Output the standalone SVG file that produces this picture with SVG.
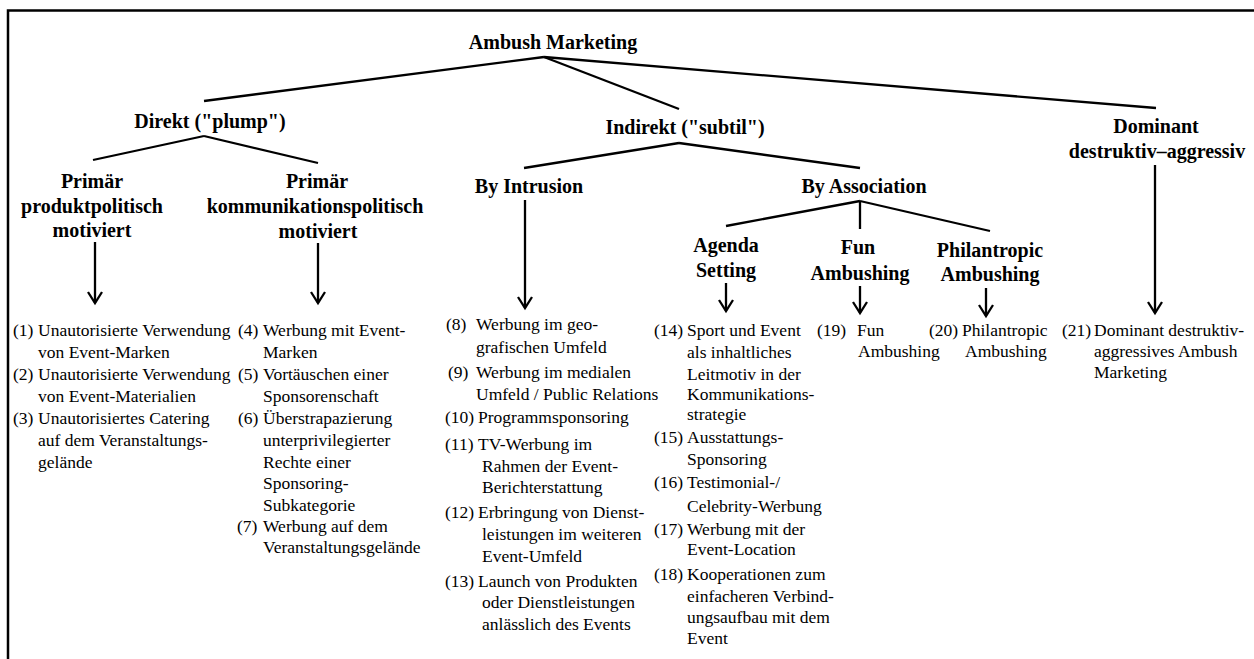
<svg xmlns="http://www.w3.org/2000/svg" width="1254" height="659" viewBox="0 0 1254 659">
<style>
.h{font-family:"Liberation Serif","Times New Roman",serif;font-weight:bold;font-size:20px;fill:#000;text-anchor:middle}
.t{font-family:"Liberation Serif","Times New Roman",serif;font-size:17.5px;fill:#000}
.ln{stroke:#000;stroke-width:2.3;fill:none;stroke-linecap:butt}
.ar{stroke:#000;stroke-width:2.3;fill:none;marker-end:url(#v)}
</style>
<defs>
<marker id="v" markerUnits="userSpaceOnUse" viewBox="-12 -8 14 16" markerWidth="14" markerHeight="16" refX="0" refY="0" orient="auto" overflow="visible">
<path d="M-11,-7 L0,0 L-11,7" stroke="#000" stroke-width="2.3" fill="none"/>
</marker>
</defs>
<rect width="1254" height="659" fill="#fff"/>
<path d="M8,659 V10.5 H1254" stroke="#000" stroke-width="2.5" fill="none"/>

<g id="connectors">
<line class="ln" x1="544" y1="57" x2="204" y2="101"/>
<line class="ln" x1="544" y1="57" x2="679" y2="109"/>
<line class="ln" x1="544" y1="57" x2="1156" y2="108"/>
<line class="ln" x1="204" y1="136" x2="93" y2="160"/>
<line class="ln" x1="204" y1="136" x2="318" y2="163"/>
<line class="ln" x1="679" y1="143" x2="524" y2="168"/>
<line class="ln" x1="679" y1="143" x2="860" y2="168"/>
<line class="ln" x1="860" y1="201" x2="726" y2="226"/>
<line class="ln" x1="860" y1="201" x2="860" y2="229"/>
<line class="ln" x1="860" y1="201" x2="990" y2="231"/>
<line class="ar" x1="95" y1="242" x2="95" y2="303"/>
<line class="ar" x1="318" y1="243" x2="318" y2="303"/>
<line class="ar" x1="525" y1="200" x2="525" y2="308"/>
<line class="ar" x1="726" y1="283" x2="726" y2="311"/>
<line class="ar" x1="860" y1="286" x2="860" y2="313"/>
<line class="ar" x1="986" y1="288" x2="986" y2="316"/>
<line class="ar" x1="1155" y1="165" x2="1155" y2="313"/>
</g>

<g id="ambush-marketing"><text class="h" x="553" y="49">Ambush Marketing</text></g>
<g id="direkt"><text class="h" x="210" y="128">Direkt ("plump")</text></g>
<g id="indirekt"><text class="h" x="685" y="134">Indirekt ("subtil")</text></g>
<g id="dominant"><text class="h" x="1156" y="133">Dominant</text><text class="h" x="1157" y="158">destruktiv–aggressiv</text></g>
<g id="produktpolitisch"><text class="h" x="92" y="188">Primär</text><text class="h" x="92" y="213">produktpolitisch</text><text class="h" x="92" y="237">motiviert</text></g>
<g id="kommunikationspolitisch"><text class="h" x="317" y="188">Primär</text><text class="h" x="315" y="213">kommunikationspolitisch</text><text class="h" x="318" y="238">motiviert</text></g>
<g id="by-intrusion"><text class="h" x="529" y="193">By Intrusion</text></g>
<g id="by-association"><text class="h" x="864" y="193">By Association</text></g>
<g id="agenda-setting"><text class="h" x="726" y="252">Agenda</text><text class="h" x="726" y="277">Setting</text></g>
<g id="fun-ambushing"><text class="h" x="858" y="254">Fun</text><text class="h" x="860" y="280">Ambushing</text></g>
<g id="philantropic-ambushing"><text class="h" x="990" y="257">Philantropic</text><text class="h" x="990" y="281">Ambushing</text></g>

<g id="items-produkt" class="t">
<text x="13" y="336">(1)<tspan x="38">Unautorisierte Verwendung</tspan></text>
<text x="38" y="358">von Event-Marken</text>
<text x="13" y="380">(2)<tspan x="38">Unautorisierte Verwendung</tspan></text>
<text x="38" y="402">von Event-Materialien</text>
<text x="13" y="424">(3)<tspan x="38">Unautorisiertes Catering</tspan></text>
<text x="38" y="446">auf dem Veranstaltungs-</text>
<text x="38" y="468">gelände</text>
</g>

<g id="items-kommunikation" class="t">
<text x="238" y="336">(4)<tspan x="263">Werbung mit Event-</tspan></text>
<text x="263" y="358">Marken</text>
<text x="238" y="380">(5)<tspan x="263">Vortäuschen einer</tspan></text>
<text x="263" y="402">Sponsorenschaft</text>
<text x="238" y="424">(6)<tspan x="263">Überstrapazierung</tspan></text>
<text x="263" y="446">unterprivilegierter</text>
<text x="263" y="468">Rechte einer</text>
<text x="263" y="489">Sponsoring-</text>
<text x="263" y="511">Subkategorie</text>
<text x="237" y="532">(7)<tspan x="263">Werbung auf dem</tspan></text>
<text x="263" y="553">Veranstaltungsgelände</text>
</g>

<g id="items-intrusion" class="t">
<text x="446" y="330">(8)<tspan x="476">Werbung im geo-</tspan></text>
<text x="476" y="353">grafischen Umfeld</text>
<text x="448" y="378">(9)<tspan x="476">Werbung im medialen</tspan></text>
<text x="476" y="400">Umfeld / Public Relations</text>
<text x="445" y="423">(10)<tspan x="478">Programmsponsoring</tspan></text>
<text x="445" y="450">(11)<tspan x="478">TV-Werbung im</tspan></text>
<text x="482" y="472">Rahmen der Event-</text>
<text x="482" y="493">Berichterstattung</text>
<text x="445" y="518">(12)<tspan x="478">Erbringung von Dienst-</tspan></text>
<text x="482" y="540">leistungen im weiteren</text>
<text x="482" y="562">Event-Umfeld</text>
<text x="445" y="587">(13)<tspan x="478">Launch von Produkten</tspan></text>
<text x="482" y="608">oder Dienstleistungen</text>
<text x="482" y="630">anlässlich des Events</text>
</g>

<g id="items-agenda" class="t">
<text x="654" y="336">(14)<tspan x="687">Sport und Event</tspan></text>
<text x="687" y="358">als inhaltliches</text>
<text x="687" y="380">Leitmotiv in der</text>
<text x="687" y="400">Kommunikations-</text>
<text x="687" y="420">strategie</text>
<text x="654" y="443">(15)<tspan x="687">Ausstattungs-</tspan></text>
<text x="687" y="465">Sponsoring</text>
<text x="654" y="488">(16)<tspan x="687">Testimonial-/</tspan></text>
<text x="687" y="512">Celebrity-Werbung</text>
<text x="654" y="535">(17)<tspan x="687">Werbung mit der</tspan></text>
<text x="687" y="555">Event-Location</text>
<text x="654" y="580">(18)<tspan x="687">Kooperationen zum</tspan></text>
<text x="687" y="602">einfacheren Verbind-</text>
<text x="687" y="623">ungsaufbau mit dem</text>
<text x="687" y="644">Event</text>
</g>

<g id="items-fun" class="t">
<text x="817" y="336">(19)<tspan x="857">Fun</tspan></text>
<text x="858" y="357">Ambushing</text>
</g>

<g id="items-philantropic" class="t">
<text x="929" y="336">(20)<tspan x="962">Philantropic</tspan></text>
<text x="965" y="357">Ambushing</text>
</g>

<g id="items-dominant" class="t">
<text x="1062" y="336">(21)<tspan x="1094">Dominant destruktiv-</tspan></text>
<text x="1094" y="357">aggressives Ambush</text>
<text x="1094" y="378">Marketing</text>
</g>
</svg>
